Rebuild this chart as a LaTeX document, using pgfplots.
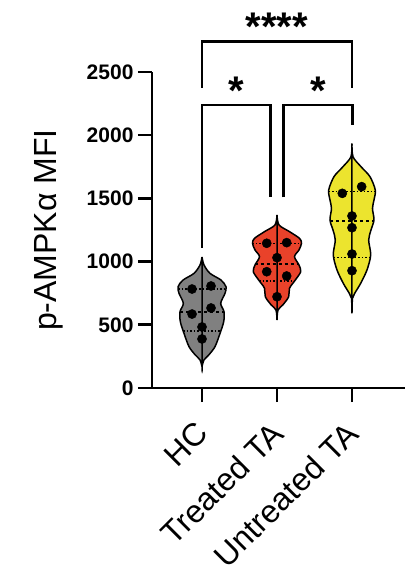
\documentclass[border=0pt]{standalone}
\usepackage{fontspec}
\setmainfont{Liberation Sans}
\usepackage{pgfplots}
\usepackage{pgfplotstable}
\pgfplotsset{compat=1.18}
\usepgfplotslibrary{fillbetween}
\definecolor{hcgray}{RGB}{128,128,128}
\definecolor{trred}{RGB}{233,66,42}
\definecolor{unyel}{RGB}{236,228,46}

% violin half-width profiles (y value, half width in px at 75 px per category)
\pgfplotstableread{
y hw
169 0
222 2
261 6.7
327 13
432 18
525 21.7
604 22
670 18.7
749 23
801 24
854 19
907 8
973 2
1036 0
}\hcviolin
\pgfplotstableread{
y hw
538 0
617 1
657 5.8
722 11.7
789 12.5
854 18.3
920 23.7
973 22
1039 17.5
1092 22
1145 24.5
1184 22.5
1237 12.5
1290 2
1369 0
}\trviolin
\pgfplotstableread{
y hw
591 0
710 0.5
749 2.7
828 8.7
934 15
1052 18.7
1171 16.7
1250 19
1329 22
1421 20.5
1487 22
1566 23.3
1672 18
1751 9
1830 1
1936 0
}\unviolin

\begin{document}
\begin{tikzpicture}
\begin{axis}[
  name=ax,
  scale only axis,
  width=253pt, height=316pt,
  xmin=-0.667, xmax=2.707,
  ymin=0, ymax=2500,
  axis x line*=bottom, axis y line*=left,
  axis line style={line width=2.8pt},
  every tick/.style={black, line width=2.6pt},
  major tick length=14pt,
  tick align=outside,
  clip=false,
  xtick={0,1,2},
  xticklabels={HC,Treated TA,Untreated TA},
  ytick={0,500,1000,1500,2000,2500},
  /pgf/number format/assume math mode=true,
  /pgf/number format/1000 sep={},
  yticklabel style={font=\bfseries\fontsize{21}{21}\selectfont, xshift=-1pt},
  xticklabel style={font=\fontsize{32}{32}\selectfont, rotate=45, anchor=north east, inner sep=0pt, xshift=-18pt, yshift=-6.75pt},
  ylabel={p-AMPKα MFI},
  ylabel style={font=\fontsize{32}{32}\selectfont, at={(axis description cs:-0.407,0.5)}, anchor=center},
]
% violins
\addplot[name path=hcR, draw=none, smooth, forget plot] table[x expr=0+\thisrow{hw}/75, y=y]{\hcviolin};
\addplot[name path=hcL, draw=none, smooth, forget plot] table[x expr=0-\thisrow{hw}/75, y=y]{\hcviolin};
\addplot[fill=hcgray, draw=black, line width=1.5pt] fill between[of=hcR and hcL];
\addplot[name path=trR, draw=none, smooth, forget plot] table[x expr=1+\thisrow{hw}/75, y=y]{\trviolin};
\addplot[name path=trL, draw=none, smooth, forget plot] table[x expr=1-\thisrow{hw}/75, y=y]{\trviolin};
\addplot[fill=trred, draw=black, line width=1.5pt] fill between[of=trR and trL];
\addplot[name path=unR, draw=none, smooth, forget plot] table[x expr=2+\thisrow{hw}/75, y=y]{\unviolin};
\addplot[name path=unL, draw=none, smooth, forget plot] table[x expr=2-\thisrow{hw}/75, y=y]{\unviolin};
\addplot[fill=unyel, draw=black, line width=1.5pt] fill between[of=unR and unL];
% quartiles
\addplot[black, line width=1.5pt, dotted, sharp plot] coordinates {(-0.32,783) (0.32,783)};
\addplot[black, line width=1.5pt, dotted, sharp plot] coordinates {(-0.25,451) (0.25,451)};
\addplot[black, line width=2pt, dashed, sharp plot] coordinates {(-0.29,604) (0.29,604)};
\addplot[black, line width=1.5pt, dotted, sharp plot] coordinates {(0.67,1145) (1.33,1145)};
\addplot[black, line width=1.5pt, dotted, sharp plot] coordinates {(0.76,846) (1.24,846)};
\addplot[black, line width=2pt, dashed, sharp plot] coordinates {(0.7,981) (1.3,981)};
\addplot[black, line width=1.5pt, dotted, sharp plot] coordinates {(1.69,1553) (2.31,1553)};
\addplot[black, line width=1.5pt, dotted, sharp plot] coordinates {(1.76,1031) (2.24,1031)};
\addplot[black, line width=2pt, dashed, sharp plot] coordinates {(1.71,1321) (2.29,1321)};
% points
\addplot[only marks, mark=*, mark size=4.6pt, black] coordinates {
(-0.133,783) (0.12,807) (0.12,633) (-0.133,585) (0,483) (0,388)};
\addplot[only marks, mark=*, mark size=4.6pt, black] coordinates {
(0.863,1145) (1.129,1150) (1.0,1031) (0.863,920) (1.129,886) (1,722)};
\addplot[only marks, mark=*, mark size=4.6pt, black] coordinates {
(1.871,1540) (2.129,1593) (2,1361) (2,1268) (2,1060) (2,928)};
% significance brackets
\addplot[black, line width=2.8pt, sharp plot] coordinates {(0,2377) (0,2740) (2,2740) (2,2377)};
\addplot[black, line width=2.8pt, sharp plot] coordinates {(0,1108) (0,2239) (0.916,2239) (0.916,1509)};
\addplot[black, line width=2.8pt, sharp plot] coordinates {(1.084,1509) (1.084,2239) (2.004,2239) (2.004,2081)};
\node[font=\bfseries\fontsize{40}{40}\selectfont, anchor=center] at (axis cs:0.453,2355) {*};
\node[font=\bfseries\fontsize{40}{40}\selectfont, anchor=center] at (axis cs:1.547,2355) {*};
\node[font=\bfseries\fontsize{40}{40}\selectfont, anchor=center] at (axis cs:0.996,2860) {****};
\end{axis}
\pgfresetboundingbox
\useasboundingbox ([shift={(-152pt,-187pt)}]ax.south west) rectangle ([shift={(1pt,72pt)}]ax.north east);
\end{tikzpicture}
\end{document}
